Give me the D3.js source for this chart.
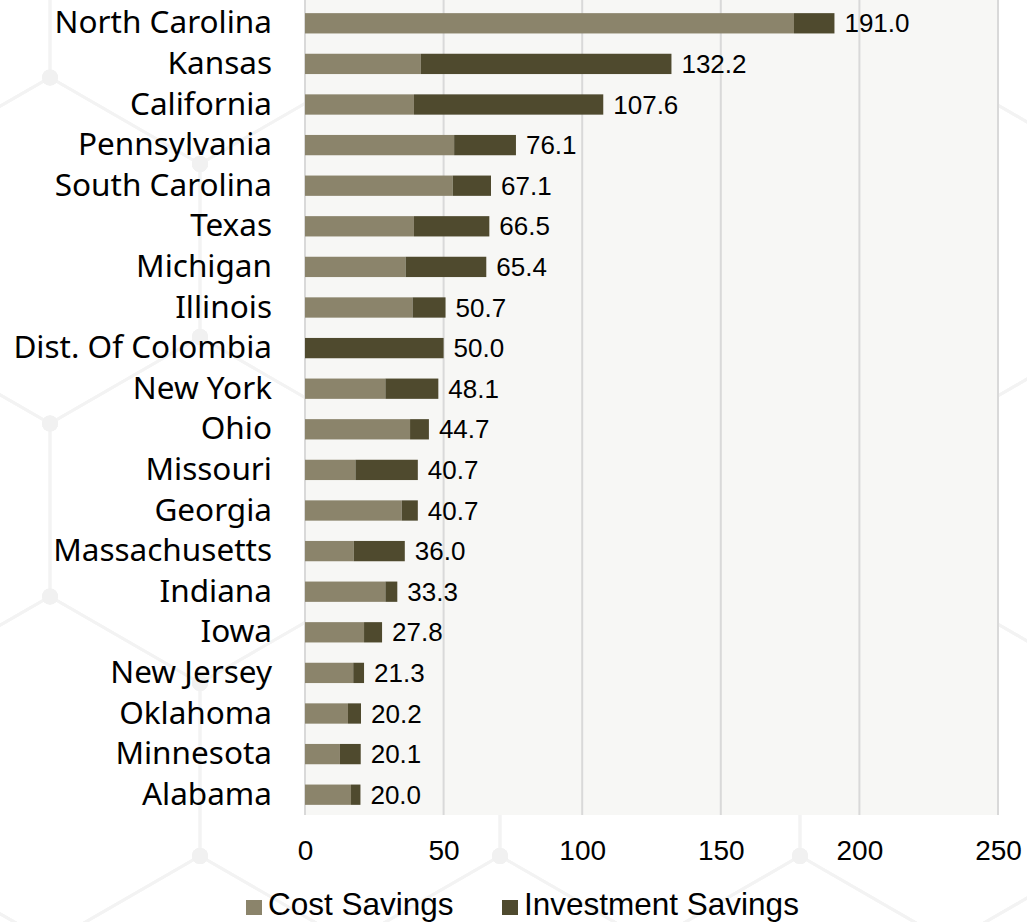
<!DOCTYPE html>
<html>
<head>
<meta charset="utf-8">
<script src="https://cdn.jsdelivr.net/npm/d3@7"></script>
<style>
  html, body { margin: 0; padding: 0; background: #ffffff; }
  svg { display: block; }
</style>
</head>
<body>
<svg id="chart" width="1027" height="922"></svg>
<script>
// ---- data ----
const categories = ["North Carolina","Kansas","California","Pennsylvania","South Carolina","Texas","Michigan","Illinois","Dist. Of Colombia","New York","Ohio","Missouri","Georgia","Massachusetts","Indiana","Iowa","New Jersey","Oklahoma","Minnesota","Alabama"];
const costSavings = [176.4, 41.8, 39.3, 53.8, 53.3, 39.3, 36.3, 38.8, 0.0, 29.0, 37.9, 18.2, 34.9, 17.6, 29.0, 21.3, 17.4, 15.5, 12.6, 16.6];
const totals = [191.0, 132.2, 107.6, 76.1, 67.1, 66.5, 65.4, 50.7, 50.0, 48.1, 44.7, 40.7, 40.7, 36.0, 33.3, 27.8, 21.3, 20.2, 20.1, 20.0];
const investmentSavings = totals.map((t, i) => +(t - costSavings[i]).toFixed(1));
const seriesNames = ["Cost Savings", "Investment Savings"];
const xTicks = [0, 50, 100, 150, 200, 250];

// ---- layout ----
const W = 1027, H = 922;
const plot = { left: 305, right: 998, top: 3, bottom: 815 };
const colors = { cost: "#8b846b", inv: "#4f4a2e" };

const svg = d3.select("#chart");

// faint hexagon background decoration
const hexW = 300, hexS = 173;
const bg = svg.append("g");
const hexEdges = [];
const hexNodes = [];
for (let r = -1; r <= 4; r++) {
  const cy = 769.5 - 259.5 * r;
  const offset = (Math.abs(r) % 2 === 0) ? 50 : 200;
  for (let k = -2; k <= 4; k++) {
    const cx = offset + hexW * k;
    const pts = [
      [cx, cy - hexS], [cx + hexW / 2, cy - hexS / 2], [cx + hexW / 2, cy + hexS / 2],
      [cx, cy + hexS], [cx - hexW / 2, cy + hexS / 2], [cx - hexW / 2, cy - hexS / 2]
    ];
    hexEdges.push(pts);
    pts.forEach(p => hexNodes.push(p));
  }
}
bg.selectAll("path.hex").data(hexEdges).join("path")
  .attr("class", "hex")
  .attr("d", d => d3.line()(d) + "Z")
  .attr("fill", "none")
  .attr("stroke", "#f3f3f3")
  .attr("stroke-width", 3);
bg.selectAll("circle.node").data(hexNodes).join("circle")
  .attr("class", "node")
  .attr("cx", d => d[0]).attr("cy", d => d[1])
  .attr("r", 8)
  .attr("fill", "#f1f1f1");

// scales
const x = d3.scaleLinear().domain([0, 250]).range([plot.left, plot.right]);
const y = d3.scaleBand().domain(categories).range([plot.top, plot.bottom]).paddingInner(0.5).paddingOuter(0.25);

// plot background
svg.append("rect")
  .attr("x", plot.left).attr("y", plot.top - 3)
  .attr("width", plot.right - plot.left).attr("height", plot.bottom - plot.top + 3)
  .attr("fill", "#f7f7f5");

// gridlines
svg.append("g").selectAll("line").data(xTicks.slice(1)).join("line")
  .attr("x1", d => x(d)).attr("x2", d => x(d))
  .attr("y1", 0).attr("y2", plot.bottom)
  .attr("stroke", "#d9d9d9").attr("stroke-width", 2);

// left axis line
svg.append("line")
  .attr("x1", x(0)).attr("x2", x(0))
  .attr("y1", 0).attr("y2", plot.bottom)
  .attr("stroke", "#d9d9d9").attr("stroke-width", 2);

// stacked bars
const rows = categories.map((c, i) => ({ cat: c, cost: costSavings[i], inv: investmentSavings[i], total: totals[i] }));
const stack = d3.stack().keys(["cost", "inv"]);
const stacked = stack(rows);
const seriesColors = [colors.cost, colors.inv];

svg.append("g").selectAll("g").data(stacked).join("g")
  .attr("fill", (d, i) => seriesColors[i])
  .selectAll("rect").data(d => d).join("rect")
  .attr("x", d => x(d[0]))
  .attr("y", d => y(d.data.cat))
  .attr("width", d => Math.max(0, x(d[1]) - x(d[0])))
  .attr("height", y.bandwidth());

// data labels
svg.append("g").selectAll("text").data(rows).join("text")
  .attr("x", d => x(d.total) + 10)
  .attr("y", d => y(d.cat) + y.bandwidth() / 2)
  .attr("dy", "0.35em")
  .attr("font-family", "'Liberation Sans', Arial, sans-serif")
  .attr("font-size", 26)
  .attr("fill", "#000")
  .text(d => d.total.toFixed(1));

// category axis
const yAxis = d3.axisLeft(y).tickSize(0).tickPadding(33);
const yg = svg.append("g").attr("transform", `translate(${plot.left},0)`).call(yAxis);
yg.select(".domain").remove();
yg.selectAll("text")
  .attr("font-family", "'Noto Sans', 'Open Sans', sans-serif")
  .attr("font-size", 31.5)
  .attr("fill", "#000")
  .attr("dy", "0.32em");

// x axis
const xAxis = d3.axisBottom(x).tickValues(xTicks).tickSize(0).tickPadding(0).tickFormat(d3.format("d"));
const xg = svg.append("g").attr("transform", `translate(0,${plot.bottom})`).call(xAxis);
xg.select(".domain").remove();
xg.selectAll("text")
  .attr("y", 45)
  .attr("dy", 0)
  .attr("font-family", "'Liberation Sans', Arial, sans-serif")
  .attr("font-size", 28)
  .attr("fill", "#000");

// legend
const legendItems = [
  { name: seriesNames[0], color: colors.cost, sx: 246 },
  { name: seriesNames[1], color: colors.inv, sx: 502 }
];
const lg = svg.append("g");
legendItems.forEach(it => {
  lg.append("rect").attr("x", it.sx).attr("y", 900).attr("width", 16).attr("height", 15).attr("fill", it.color);
  lg.append("text").attr("x", it.sx + 22).attr("y", 915)
    .attr("font-family", "'Liberation Sans', Arial, sans-serif")
    .attr("font-size", 31.5)
    .attr("fill", "#000")
    .text(it.name);
});
</script>
</body>
</html>
